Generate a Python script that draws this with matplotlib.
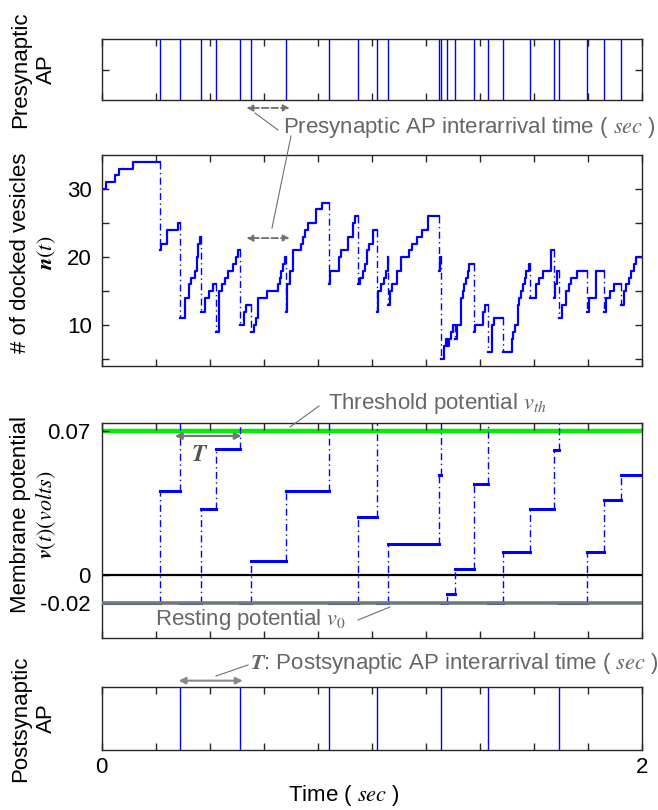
import numpy as np
import matplotlib.pyplot as plt
from matplotlib.lines import Line2D

plt.rcParams["font.family"] = ["Liberation Sans", "DejaVu Sans"]
plt.rcParams["mathtext.fontset"] = "stix"
plt.rcParams["font.size"] = 16

# presynaptic action potentials (sec)
pre_spikes = [0.217, 0.289, 0.369, 0.423, 0.511, 0.553, 0.682, 0.841, 0.949,
              1.019, 1.062, 1.248, 1.257, 1.280, 1.307, 1.378, 1.429, 1.486,
              1.587, 1.675, 1.695, 1.797, 1.861, 1.925]
# postsynaptic action potentials (sec)
post_spikes = [0.289, 0.511, 0.841, 1.019, 1.257, 1.429, 1.695]

# membrane potential right after each presynaptic AP (volts)
v_rest, v_th = -0.02, 0.07
mem_after = [0.041, v_rest, 0.0324, 0.0616, v_rest, 0.0071, 0.041, v_rest,
             0.0284, v_rest, 0.0154, 0.0486, v_rest, -0.0136, 0.0029, 0.0446,
             v_rest, 0.0113, 0.0321, 0.0608, v_rest, 0.0113, 0.0365, 0.0486]

# number of docked vesicles n(t), step changes
n_times = [0, 0.016, 0.049, 0.064, 0.117,
           0.217, 0.220, 0.243, 0.281,
           0.289, 0.308, 0.324, 0.332, 0.345, 0.351, 0.358, 0.364,
           0.369, 0.382, 0.398, 0.412,
           0.423, 0.435, 0.447, 0.455, 0.469, 0.486, 0.499, 0.505,
           0.511, 0.526, 0.535,
           0.553, 0.563, 0.572, 0.579, 0.613, 0.652, 0.660, 0.665, 0.672, 0.678,
           0.682, 0.688, 0.699, 0.707, 0.739, 0.745, 0.751, 0.763, 0.794, 0.814,
           0.841, 0.845, 0.880, 0.886, 0.911, 0.929, 0.938,
           0.949, 0.955, 0.966, 0.975, 0.981, 0.990, 1.004,
           1.019, 1.022, 1.036, 1.046, 1.051, 1.060,
           1.062, 1.068, 1.076, 1.093, 1.109, 1.137, 1.150, 1.168, 1.187, 1.208,
           1.248, 1.2525,
           1.257, 1.268, 1.276,
           1.280, 1.287, 1.295, 1.300,
           1.307, 1.315, 1.331, 1.337, 1.343, 1.349, 1.357, 1.359,
           1.378, 1.381, 1.411, 1.418,
           1.429, 1.445, 1.452,
           1.486, 1.519, 1.524, 1.530, 1.540, 1.546, 1.552, 1.561, 1.567, 1.573, 1.581,
           1.587, 1.608, 1.618, 1.633, 1.664,
           1.675, 1.678, 1.685,
           1.695, 1.706, 1.719, 1.729, 1.738, 1.759,
           1.797, 1.803, 1.832,
           1.861, 1.866, 1.881, 1.897,
           1.925, 1.934, 1.940, 1.952, 1.962, 1.970, 1.977]
n_values = [30, 31, 32, 33, 34,
            21, 22, 24, 25,
            11, 14, 16, 17, 18, 20, 22, 23,
            12, 14, 15, 16,
            9, 15, 16, 17, 18, 19, 20, 21,
            10, 12, 13,
            9, 10, 11, 14, 15, 16, 17, 18, 19, 20,
            12, 16, 18, 21, 22, 23, 24, 25, 27, 28,
            16, 18, 20, 21, 23, 25, 26,
            16, 17, 18, 19, 21, 22, 24,
            12, 15, 16, 17, 18, 20,
            13, 15, 16, 18, 20, 21, 22, 23, 24, 26,
            18, 20,
            5, 7, 8,
            7, 8, 9, 10,
            8, 10, 14, 15, 16, 17, 18, 19,
            9, 10, 12, 13,
            6, 10, 11,
            6, 8, 9, 10, 13, 14, 15, 16, 17, 18, 19,
            14, 16, 17, 18, 21,
            14, 16, 18,
            11, 13, 15, 16, 17, 18,
            12, 14, 18,
            12, 14, 15, 16,
            13, 15, 16, 17, 18, 19, 20]

BLUE = "#0000ff"
FRAME = "#262626"
ANNOT = "#666666"
DASHDOT = (0, (5, 2.5, 1, 2.5))
T_END = 2.0

fig = plt.figure(figsize=(6.58, 8.1), dpi=100)
L, W = 0.1546, 0.8207
ax1 = fig.add_axes([L, 0.8765, W, 0.0753])
ax2 = fig.add_axes([L, 0.5481, W, 0.2605])
ax3 = fig.add_axes([L, 0.2123, W, 0.2654])
ax4 = fig.add_axes([L, 0.0741, W, 0.0778])


def style(ax):
    ax.set_xlim(0, T_END)
    ax.set_xticks(np.arange(0, 2.01, 0.2))
    ax.tick_params(direction="in", top=True, right=True, length=5, width=1,
                   color=FRAME, labelbottom=False, pad=7)
    for s in ax.spines.values():
        s.set_color(FRAME)
        s.set_linewidth(1)


def ylabel2(ax, first, second, y=0.5):
    # two separate rotated lines, like the original figure
    ax.text(-0.150, y, first, transform=ax.transAxes, rotation=90,
            ha="center", va="center")
    ax.text(-0.102, y, second, transform=ax.transAxes, rotation=90,
            ha="center", va="center")


def px(x, y):
    return x / 658, 1 - y / 810


def leader(p0, p1):
    (x0, y0), (x1, y1) = px(*p0), px(*p1)
    fig.add_artist(Line2D([x0, x1], [y0, y1], transform=fig.transFigure,
                          color="#707070", lw=0.8))


# --- presynaptic APs
style(ax1)
ax1.vlines(pre_spikes, 0, 1, color=BLUE, lw=1)
ax1.set_ylim(0, 1)
ax1.set_yticks([0.5])
ax1.set_yticklabels([])
ylabel2(ax1, "Presynaptic", "AP")
ax1.annotate("", xy=(0.536, -0.13), xytext=(0.696, -0.13),
             xycoords=("data", "axes fraction"), annotation_clip=False,
             arrowprops=dict(arrowstyle="<|-|>", color="#707070", lw=1.3,
                             ls="--", shrinkA=0, shrinkB=0, mutation_scale=9))

# --- docked vesicles
style(ax2)
sx, sy, drops = [], [], []
for i, (t, v) in enumerate(zip(n_times, n_values)):
    if i > 0:
        prev = n_values[i - 1]
        sx.append(t)
        sy.append(prev)
        if v < prev:
            drops.append((t, prev, v))
            sx.append(np.nan)
            sy.append(np.nan)
    sx.append(t)
    sy.append(v)
sx.append(T_END)
sy.append(n_values[-1])
ax2.plot(sx, sy, color=BLUE, lw=1.6)
for t, a, b in drops:
    ax2.plot([t, t], [a, b], color=BLUE, lw=1, ls=DASHDOT)
ax2.set_ylim(4, 35)
ax2.set_yticks(np.arange(5, 31, 5))
ax2.set_yticklabels(["", "10", "", "20", "", "30"])
ylabel2(ax2, "# of docked vesicles", "$\\boldsymbol{n}(t)$", y=0.535)
ax2.annotate("", xy=(0.536, 22.8), xytext=(0.696, 22.8),
             arrowprops=dict(arrowstyle="<|-|>", color="#707070", lw=1.3,
                             ls="--", shrinkA=0, shrinkB=0, mutation_scale=9))

# --- membrane potential
style(ax3)
ratio = 0.673
ax3.set_yscale("function", functions=(lambda v: np.where(v < 0, v * ratio, v),
                                      lambda u: np.where(u < 0, u / ratio, u)))
v_top = 0.074
ax3.set_ylim(-0.0453, v_top)
ax3.axhline(v_th, color="#00ee00", lw=3.2, zorder=1)
ax3.axhline(0, color="black", lw=1.6, zorder=2)
ax3.axhline(v_rest, color="#6f7b7b", lw=2.6, zorder=4)
mx, my = [0], [v_rest]
v = v_rest
fired = np.isin(pre_spikes, post_spikes)
for t, after, f in zip(pre_spikes, mem_after, fired):
    mx += [t, np.nan]
    my += [v, np.nan]
    ax3.plot([t, t], [v, v_top if f else after], color=BLUE, lw=1, ls=DASHDOT,
             zorder=3)
    mx.append(t)
    my.append(after)
    v = after
mx.append(T_END)
my.append(v)
ax3.plot(mx, my, color=BLUE, lw=2.2, zorder=3)
ax3.set_yticks([v_rest, 0, v_th])
ax3.set_yticklabels(["-0.02", "0", "0.07"])
ax3.tick_params(axis="y", right=False, pad=8)
ylabel2(ax3, "Membrane potential", "$\\boldsymbol{v}(t)(volts)$", y=0.575)
ax3.annotate("", xy=(0.271, 0.0677), xytext=(0.518, 0.0677),
             arrowprops=dict(arrowstyle="<|-|>", color="#777777", lw=1.5,
                             shrinkA=0, shrinkB=0, mutation_scale=10))
ax3.text(0.363, 0.0583, "$\\boldsymbol{T}$", color="#555555", ha="center",
         va="center", fontsize=17)

# --- postsynaptic APs
style(ax4)
ax4.vlines(post_spikes, 0, 1, color=BLUE, lw=1)
ax4.set_ylim(0, 1)
ax4.set_yticks([])
ax4.tick_params(labelbottom=True, pad=5)
ax4.set_xticklabels(["0"] + [""] * 9 + ["2"])
ylabel2(ax4, "Postsynaptic", "AP")
ax4.set_xlabel("Time ( $sec$ )")
ax4.xaxis.set_label_coords(0.449, -0.52)
ax4.annotate("", xy=(0.285, 1.10), xytext=(0.522, 1.10),
             xycoords=("data", "axes fraction"), annotation_clip=False,
             arrowprops=dict(arrowstyle="<|-|>", color="#888888", lw=1.5,
                             shrinkA=0, shrinkB=0, mutation_scale=10))

# --- annotations (figure level)
fig.text(*px(283, 128), "Presynaptic AP interarrival time ( $sec$ )",
         color=ANNOT, va="center", ha="left")
leader((255, 113), (278, 130))
leader((291, 136), (272, 228))

fig.text(*px(328, 403), "Threshold potential $v_{th}$", color=ANNOT,
         va="center", ha="left")
leader((290, 427), (319, 406))

fig.text(*px(155, 620), "Resting potential $v_0$", color=ANNOT,
         va="center", ha="left")
leader((358, 620), (390, 607))

fig.text(*px(250, 664), "$\\boldsymbol{T}$: Postsynaptic AP interarrival time ( $sec$ )",
         color=ANNOT, va="center", ha="left")
leader((216, 676), (248, 665))

fig.savefig("out.png", dpi=100)
